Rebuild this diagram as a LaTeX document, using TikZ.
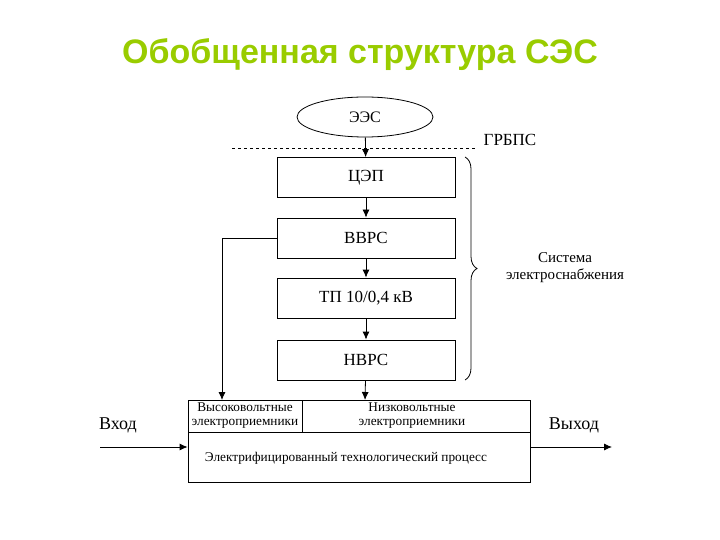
\documentclass[tikz,border=0pt]{standalone}
\usepackage{fontspec}
\setmainfont{Liberation Serif}
\newfontfamily\titlefont{Liberation Sans}
\usetikzlibrary{shapes.geometric,arrows.meta,decorations.pathreplacing}
\definecolor{titlegreen}{RGB}{153,204,0}
\begin{document}
\begin{tikzpicture}[x=1pt,y=-1pt,
  blk/.style={draw,thick,minimum width=178pt,minimum height=40pt,inner sep=0pt,font=\fontsize{17}{19}\selectfont},
  arr/.style={-{Latex[length=8pt,width=7pt]},thick},
  lbl/.style={font=\fontsize{15}{17}\selectfont,align=center}]
\useasboundingbox (0,0) rectangle (720,540);
\node[font=\titlefont\bfseries\fontsize{34}{40}\selectfont,text=titlegreen] (title) at (360,55) {Обобщенная структура СЭС};
\node[draw,thick,ellipse,minimum width=136pt,minimum height=40pt,font=\fontsize{16}{18}\selectfont] (ees) at (365,117) {ЭЭС};
\draw[dashed,thick] (232,148) coordinate (dl) -- (475,148) coordinate (dr);
\node[lbl,font=\fontsize{17}{19}\selectfont] (grbps) at (510,140) {ГРБПС};
\node[blk] (cep) at (366,177.5) {ЦЭП};
\node[blk] (vvrs) at (366,238) {ВВРС};
\node[blk] (tp) at (366,298) {ТП 10/0,4 кВ};
\node[blk] (nvrs) at (366,360) {НВРС};
\draw[arr] (ees) -- (cep);
\draw[arr] (cep) -- (vvrs);
\draw[arr] (vvrs) -- (tp);
\draw[arr] (tp) -- (nvrs);
\draw[thick,decorate,decoration={brace,amplitude=12pt}] (465,157) coordinate (bt) -- (465,380) coordinate (bb);
\node[lbl] (sys) at (565,268) {Система\\электроснабжения};
\node[draw,thick,minimum width=342pt,minimum height=82pt,inner sep=0pt] (proc) at (359,441) {};
\draw[thick] (188,432) coordinate (rl) -- (530,432) coordinate (rr);
\draw[thick] (302,400) coordinate (dt) -- (302,432) coordinate (db);
\node[lbl,font=\fontsize{13.3}{14}\selectfont] (hv) at (245,416) {Высоковольтные\\электроприемники};
\node[lbl,font=\fontsize{13.3}{14}\selectfont] (lv) at (412,416) {Низковольтные\\электроприемники};
\node[lbl,font=\fontsize{13.3}{15}\selectfont] (etp) at (346,458) {Электрифицированный технологический процесс};
\coordinate (hvtop) at (222,400);
\draw[arr] (vvrs.west) -- (222,238) -- (hvtop);
\draw[arr] (nvrs) -- (365,400);
\node[lbl,font=\fontsize{18}{20}\selectfont] (in) at (118,425) {Вход};
\node[lbl,font=\fontsize{18}{20}\selectfont] (out) at (574,425) {Выход};
\coordinate (inst) at (100,447);
\coordinate (outend) at (612,447);
\draw[arr] (inst) -- (proc.west |- inst);
\draw[arr] (proc.east |- outend) -- (outend);
\end{tikzpicture}
\end{document}
